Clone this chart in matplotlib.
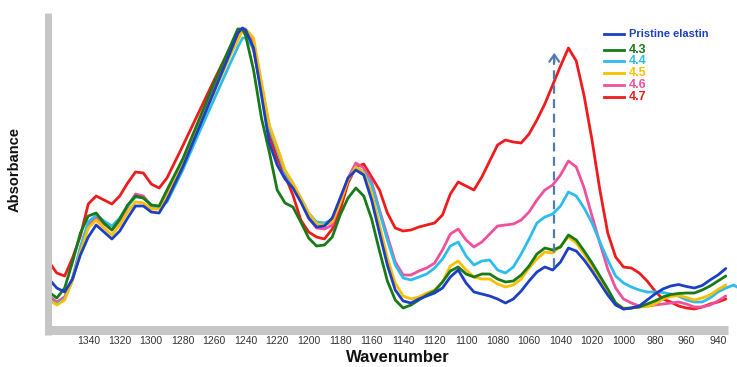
import matplotlib
matplotlib.use("Agg")
import matplotlib.pyplot as plt
from matplotlib.lines import Line2D

plt.rcParams["font.family"] = ["Liberation Sans", "DejaVu Sans"]

# FTIR spectra, wavenumber axis (cm-1) shared by all samples
wavenumber = [1365, 1360, 1355, 1350, 1345, 1340, 1335, 1330, 1325, 1320, 1315, 1310,
              1305, 1300, 1295, 1290, 1280, 1270, 1260, 1250, 1245, 1242, 1240, 1235,
              1230, 1225, 1220, 1215, 1210, 1205, 1200, 1195, 1190, 1185, 1180, 1175,
              1170, 1165, 1160, 1155, 1150, 1145, 1140, 1135, 1130, 1125, 1120, 1115,
              1110, 1105, 1100, 1095, 1090, 1085, 1080, 1075, 1070, 1065, 1060, 1055,
              1050, 1045, 1040, 1035, 1030, 1025, 1020, 1015, 1010, 1005, 1000, 995,
              990, 985, 980, 975, 970, 965, 960, 955, 950, 945, 940, 935]
wavenumber_44 = wavenumber + [930, 928]

pristine = [0.51, 0.42, 0.38, 0.51, 0.75, 0.93, 1.05, 0.98, 0.91, 0.99, 1.12, 1.24,
            1.24, 1.18, 1.17, 1.30, 1.63, 2.01, 2.39, 2.77, 2.97, 3.02, 3.00, 2.82,
            2.35, 1.87, 1.65, 1.51, 1.42, 1.28, 1.12, 1.03, 1.04, 1.12, 1.32, 1.52,
            1.60, 1.55, 1.30, 0.97, 0.65, 0.40, 0.29, 0.27, 0.31, 0.34, 0.37, 0.42,
            0.53, 0.60, 0.47, 0.38, 0.36, 0.34, 0.31, 0.27, 0.31, 0.39, 0.49, 0.58,
            0.63, 0.60, 0.68, 0.82, 0.79, 0.70, 0.59, 0.47, 0.35, 0.25, 0.21, 0.22,
            0.24, 0.30, 0.36, 0.41, 0.44, 0.455, 0.435, 0.42, 0.445, 0.50, 0.55, 0.615]
s43 = [0.38, 0.32, 0.42, 0.68, 0.97, 1.14, 1.17, 1.07, 1.00, 1.11, 1.25, 1.34,
       1.32, 1.25, 1.24, 1.40, 1.71, 2.09, 2.47, 2.83, 3.01, 3.01, 2.94, 2.60,
       2.12, 1.78, 1.40, 1.27, 1.23, 1.08, 0.92, 0.84, 0.85, 0.93, 1.15, 1.32,
       1.42, 1.34, 1.11, 0.79, 0.49, 0.30, 0.22, 0.25, 0.30, 0.35, 0.39, 0.48,
       0.59, 0.63, 0.56, 0.53, 0.56, 0.56, 0.51, 0.48, 0.49, 0.55, 0.64, 0.76,
       0.82, 0.80, 0.83, 0.95, 0.90, 0.79, 0.67, 0.54, 0.41, 0.27, 0.21, 0.22,
       0.23, 0.26, 0.29, 0.33, 0.355, 0.365, 0.37, 0.37, 0.40, 0.44, 0.49, 0.54]
s44 = [0.31, 0.26, 0.31, 0.50, 0.83, 1.08, 1.15, 1.09, 1.04, 1.12, 1.24, 1.33,
       1.32, 1.25, 1.22, 1.28, 1.60, 1.96, 2.31, 2.66, 2.83, 2.92, 2.92, 2.82,
       2.45, 2.02, 1.80, 1.57, 1.46, 1.32, 1.17, 1.08, 1.07, 1.10, 1.30, 1.51,
       1.63, 1.58, 1.45, 1.18, 0.90, 0.65, 0.52, 0.50, 0.53, 0.56, 0.62, 0.71,
       0.84, 0.88, 0.74, 0.65, 0.69, 0.70, 0.60, 0.57, 0.63, 0.76, 0.91, 1.07,
       1.13, 1.16, 1.24, 1.38, 1.34, 1.22, 1.07, 0.88, 0.70, 0.54, 0.47, 0.43,
       0.40, 0.38, 0.38, 0.375, 0.36, 0.34, 0.30, 0.28, 0.28, 0.32, 0.38, 0.42,
       0.45, 0.43]
s45 = [0.30, 0.25, 0.30, 0.50, 0.78, 1.02, 1.10, 1.02, 0.95, 1.05, 1.18, 1.28,
       1.27, 1.21, 1.21, 1.33, 1.67, 2.03, 2.38, 2.74, 2.90, 2.99, 3.01, 2.92,
       2.48, 2.05, 1.83, 1.60, 1.47, 1.32, 1.17, 1.06, 1.05, 1.08, 1.27, 1.50,
       1.63, 1.57, 1.37, 1.05, 0.72, 0.47, 0.34, 0.31, 0.33, 0.37, 0.40, 0.48,
       0.64, 0.69, 0.60, 0.53, 0.51, 0.51, 0.46, 0.43, 0.45, 0.51, 0.62, 0.71,
       0.78, 0.77, 0.84, 0.93, 0.87, 0.76, 0.64, 0.52, 0.38, 0.27, 0.22, 0.22,
       0.23, 0.235, 0.26, 0.31, 0.335, 0.345, 0.325, 0.30, 0.32, 0.35, 0.405, 0.45]
s46 = [0.34, 0.28, 0.33, 0.52, 0.82, 1.05, 1.13, 1.06, 1.00, 1.09, 1.23, 1.36,
       1.34, 1.24, 1.23, 1.34, 1.69, 2.05, 2.41, 2.77, 2.93, 3.00, 2.99, 2.88,
       2.45, 2.03, 1.82, 1.58, 1.45, 1.30, 1.12, 1.02, 1.01, 1.05, 1.28, 1.52,
       1.67, 1.62, 1.48, 1.20, 0.94, 0.68, 0.55, 0.55, 0.59, 0.62, 0.67, 0.80,
       0.96, 1.01, 0.90, 0.83, 0.88, 0.96, 1.04, 1.05, 1.06, 1.10, 1.18, 1.30,
       1.40, 1.45, 1.55, 1.69, 1.63, 1.42, 1.14, 0.87, 0.61, 0.42, 0.31, 0.27,
       0.24, 0.24, 0.25, 0.26, 0.27, 0.28, 0.26, 0.23, 0.23, 0.25, 0.29, 0.34]
s47 = [0.68, 0.57, 0.54, 0.72, 0.94, 1.26, 1.34, 1.30, 1.26, 1.34, 1.47, 1.58,
       1.57, 1.46, 1.42, 1.52, 1.84, 2.17, 2.50, 2.82, 2.96, 3.01, 2.99, 2.80,
       2.40, 1.95, 1.72, 1.54, 1.35, 1.10, 0.98, 0.93, 0.91, 1.01, 1.20, 1.47,
       1.63, 1.66, 1.53, 1.40, 1.17, 1.02, 0.99, 1.00, 1.03, 1.05, 1.07, 1.15,
       1.36, 1.48, 1.44, 1.40, 1.53, 1.69, 1.85, 1.90, 1.88, 1.87, 1.96, 2.10,
       2.26, 2.45, 2.64, 2.82, 2.69, 2.34, 1.90, 1.40, 0.97, 0.73, 0.63, 0.62,
       0.57, 0.49, 0.39, 0.31, 0.28, 0.24, 0.22, 0.21, 0.23, 0.26, 0.28, 0.31]

labels = ["Pristine elastin", "4.3", "4.4", "4.5", "4.6", "4.7"]
colors = ["#1c3fc4", "#187a18", "#2ebcec", "#f8c000", "#f0509c", "#ee1c1c"]

xticks = [1360, 1340, 1320, 1300, 1280, 1260, 1240, 1220, 1200, 1180, 1160, 1140,
          1120, 1100, 1080, 1060, 1040, 1020, 1000, 980, 960, 940]
xticklabels = [""] + [str(t) for t in xticks[1:]]
yticks = [0.227, 0.767, 1.317, 1.867, 2.407, 2.957]

# dashed arrow marking the growth of the ~1040 band
arrow_x = 1044
arrow_y = [0.63, 2.80]

fig = plt.figure(figsize=(7.37, 3.67), dpi=100)
ax = fig.add_axes([47.5 / 737, 37.5 / 367, 1 - 47.5 / 737, 1 - 37.5 / 367])

series = [(wavenumber, pristine), (wavenumber, s43), (wavenumber_44, s44),
          (wavenumber, s45), (wavenumber, s46), (wavenumber, s47)]
# draw the most changed samples first so the pristine trace sits on top
for i in [5, 4, 2, 3, 1, 0]:
    x, y = series[i]
    ax.plot(x, y, color=colors[i], lw=2.0, solid_joinstyle="round",
            solid_capstyle="round", clip_on=False)

ax.plot([arrow_x, arrow_x], [arrow_y[0], arrow_y[1] - 0.05], color="#4f7db3",
        lw=1.6, dashes=(4, 2.5))
ax.annotate("", xy=(arrow_x, arrow_y[1]), xytext=(arrow_x, arrow_y[1] - 0.15),
            arrowprops=dict(arrowstyle="->,head_length=0.5,head_width=0.35",
                            color="#4f7db3", lw=1.6))

ax.set_xlim(1365.9, 927.9)
ax.set_ylim(0.005, 3.30)

for side in ["top", "right"]:
    ax.spines[side].set_visible(False)
for side, lw in [("left", 5), ("bottom", 6.5)]:
    ax.spines[side].set_color("#c6c6c6")
    ax.spines[side].set_linewidth(lw)
    ax.spines[side].set_capstyle("butt")
ax.spines["left"].set_bounds(-0.045, 3.17)
ax.spines["bottom"].set_bounds(1367.5, 933.6)

ax.set_xticks(xticks, xticklabels)
# minor ticks every 4 cm-1, only along the grey axis bar
ax.set_xticks(list(range(1364, 935, -4)), minor=True)
ax.tick_params(axis="x", which="major", direction="inout", length=4, width=0.8,
               color="#e06868", labelsize=7.5, labelcolor="#333333", pad=3)
ax.tick_params(axis="x", which="minor", direction="inout", length=2.5, width=0.6,
               color="#e09a9a")
ax.set_yticks(yticks)
ax.set_yticklabels([])
ax.tick_params(axis="y", which="major", direction="inout", length=4, width=0.8,
               color="#e06868")

fig.text(398 / 737, 1 - 358 / 367, "Wavenumber", ha="center", va="center",
         fontsize=12, fontweight="bold", color="#111111")
fig.text(15 / 737, 1 - 169.5 / 367, "Absorbance", ha="center", va="center",
         rotation=90, fontsize=10.5, fontweight="bold", color="#111111")

# legend built by hand: short line plus coloured bold label
legend_rows = [34.3, 50, 61.3, 72.7, 85, 97.3]
legend_sizes = [8, 9, 9, 9, 9, 9]
for lab, col, row, fs in zip(labels, colors, legend_rows, legend_sizes):
    yf = 1 - row / 367
    fig.add_artist(Line2D([604 / 737, 624 / 737], [yf, yf], color=col, lw=2))
    fig.text(629 / 737, yf, lab, ha="left", va="center", fontsize=fs,
             fontweight="bold", color=col)

plt.savefig("out.png", dpi=100)
plt.close()
